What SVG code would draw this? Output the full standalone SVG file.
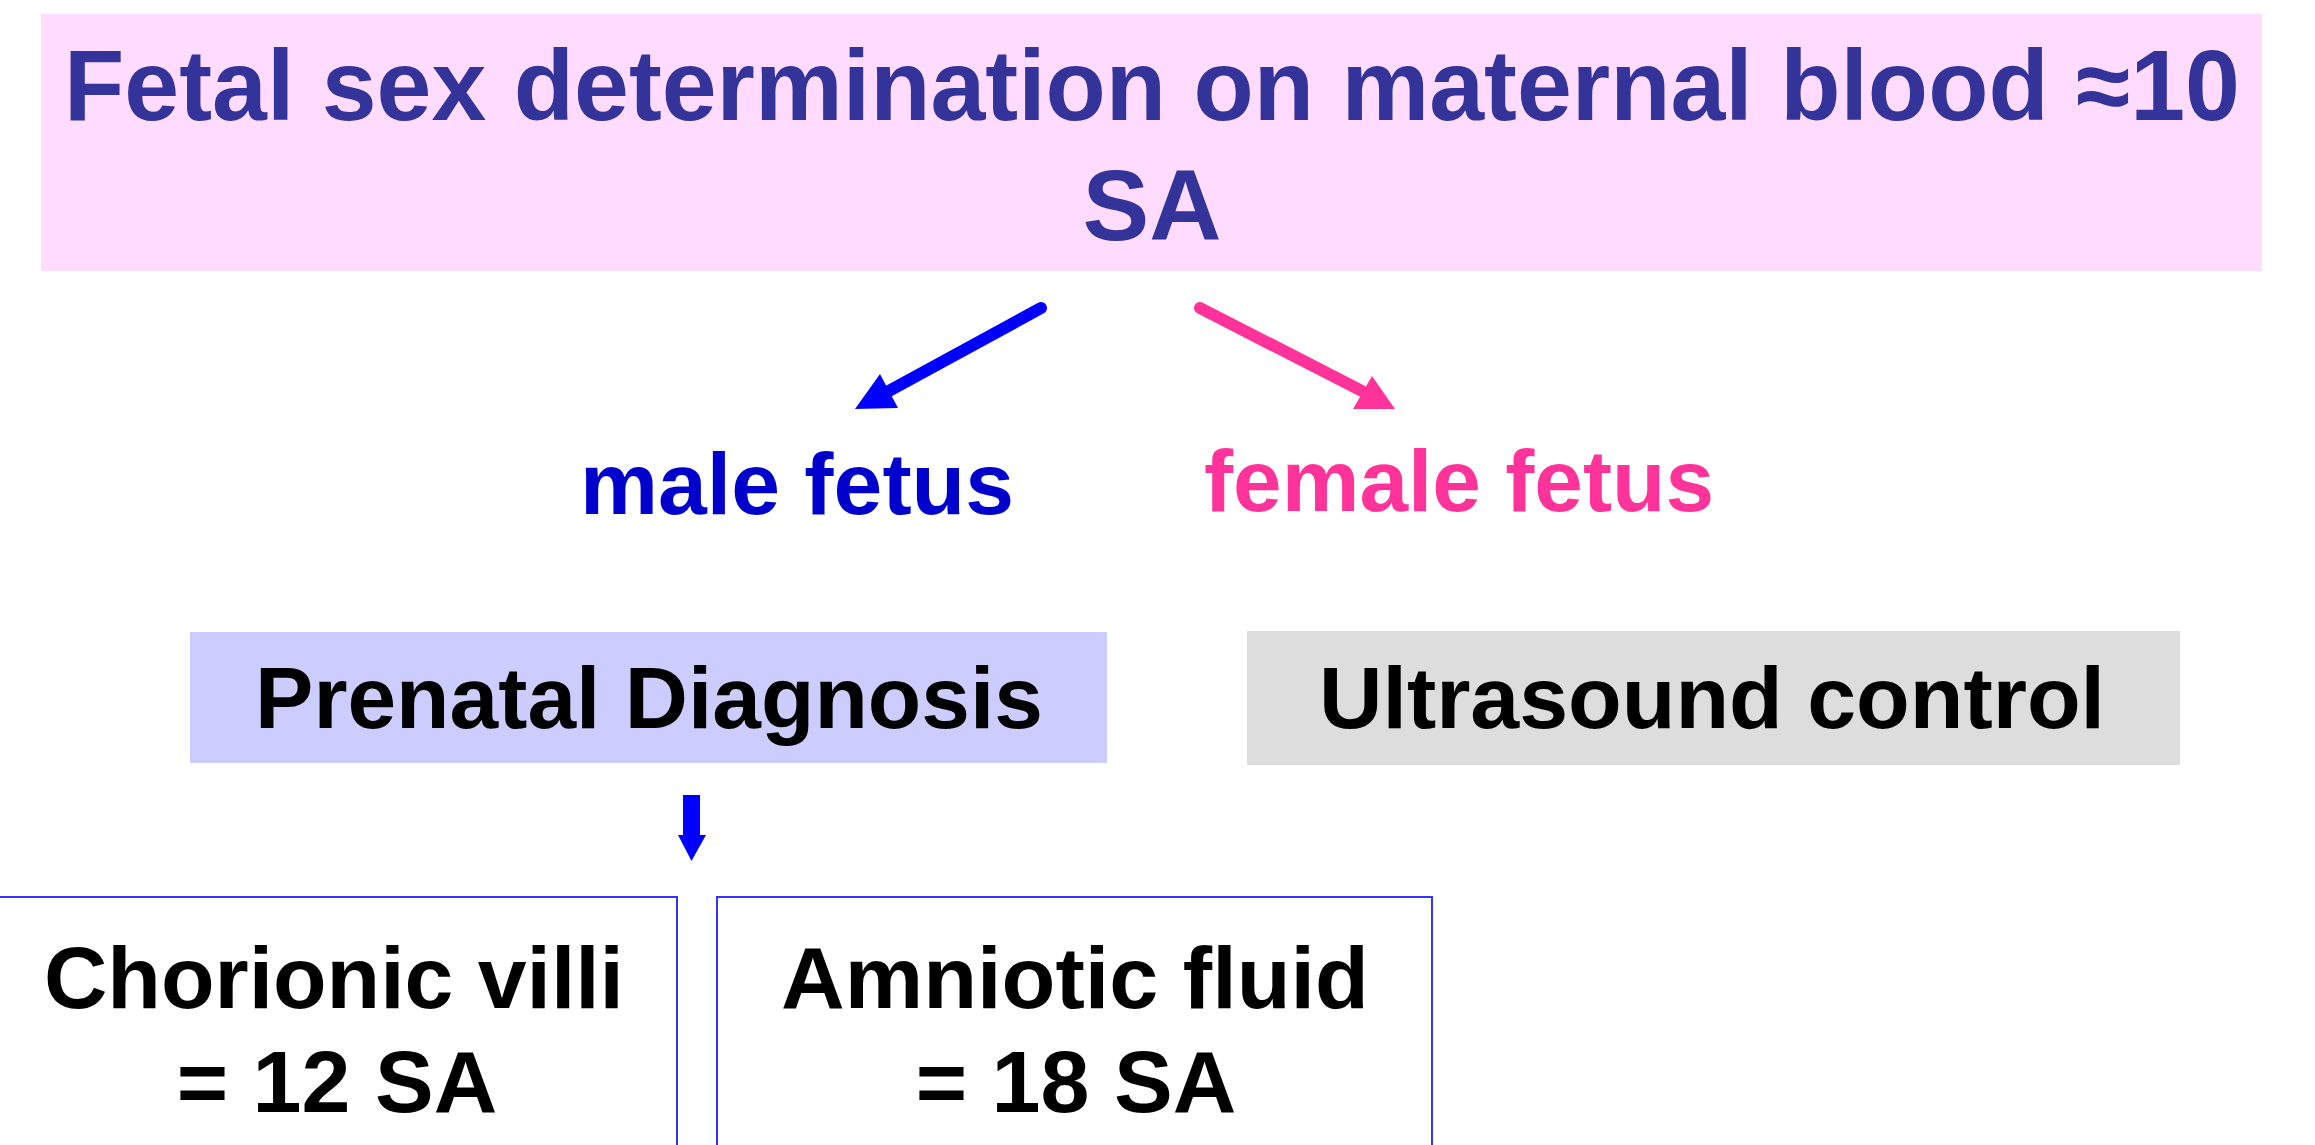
<svg xmlns="http://www.w3.org/2000/svg" width="2315" height="1145" viewBox="0 0 2315 1145">
<style>
text{font-family:"Liberation Sans",Arial,sans-serif;font-weight:bold}
.title{font-size:100px;fill:#333399}
.lbl{font-size:88px}
.box{font-size:88px;fill:#000}
.outline{fill:#fff;stroke:#3333FF;stroke-width:2}
</style>
<rect width="2315" height="1145" fill="#fff"/>
<g id="title">
<rect x="41" y="14" width="2221" height="257" fill="#FFDBFF"/>
<text class="title" x="1152" y="120" text-anchor="middle" textLength="2176" lengthAdjust="spacingAndGlyphs">Fetal sex determination on maternal blood ≈10</text>
<text class="title" x="1152" y="240" text-anchor="middle">SA</text>
</g>
<g id="male">
<text class="lbl" x="580" y="514" fill="#0000CC" textLength="434" lengthAdjust="spacingAndGlyphs">male fetus</text>
</g>
<g id="female">
<text class="lbl" x="1204" y="511" fill="#FF3399" textLength="510" lengthAdjust="spacingAndGlyphs">female fetus</text>
</g>
<g id="prenatal">
<rect x="190" y="632" width="917" height="131" fill="#CCCCFF"/>
<text class="box" x="649" y="728" text-anchor="middle" textLength="788" lengthAdjust="spacingAndGlyphs">Prenatal Diagnosis</text>
</g>
<g id="ultrasound">
<rect x="1247" y="631" width="933" height="134" fill="#DDDDDD"/>
<text class="box" x="1712" y="728" text-anchor="middle" textLength="786" lengthAdjust="spacingAndGlyphs">Ultrasound control</text>
</g>
<g id="chorionic">
<rect class="outline" x="-10" y="897" width="687" height="270"/>
<text class="box" x="334" y="1008" text-anchor="middle" textLength="580" lengthAdjust="spacingAndGlyphs">Chorionic villi</text>
<text class="box" x="337" y="1112" text-anchor="middle">= 12 SA</text>
</g>
<g id="amniotic">
<rect class="outline" x="717" y="897" width="715" height="270"/>
<text class="box" x="1075" y="1008" text-anchor="middle" textLength="588" lengthAdjust="spacingAndGlyphs">Amniotic fluid</text>
<text class="box" x="1076" y="1112" text-anchor="middle">= 18 SA</text>
</g>
<g id="connectors">
<line x1="1041" y1="308" x2="887" y2="392" stroke="#0000FF" stroke-width="12" stroke-linecap="round"/>
<polygon points="855,409 880,374 898,408" fill="#0000FF"/>
<line x1="1200" y1="308" x2="1362" y2="391" stroke="#FF3399" stroke-width="12" stroke-linecap="round"/>
<polygon points="1395,409 1372,376 1353,409" fill="#FF3399"/>
<rect x="683" y="795" width="17" height="41" fill="#0000FF"/>
<polygon points="678,835 706,835 691.5,861" fill="#0000FF"/>
</g>
</svg>
